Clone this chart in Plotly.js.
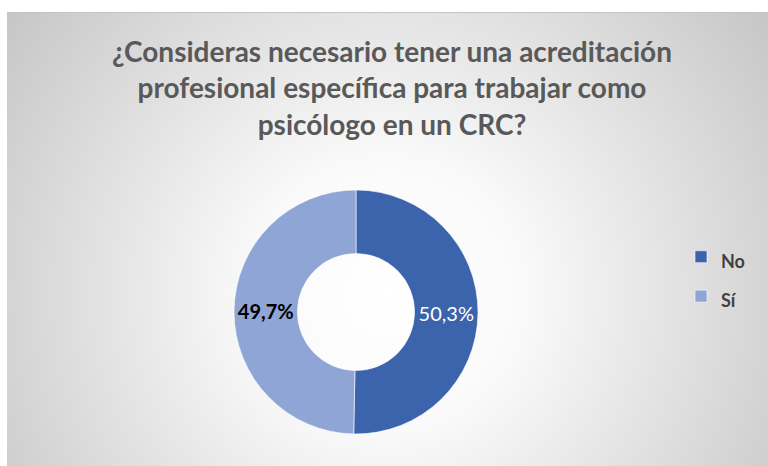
<!DOCTYPE html>
<html>
<head>
<meta charset="utf-8">
<script src="https://cdn.plot.ly/plotly-3.0.1.min.js"></script>
<style>
  html, body { margin: 0; padding: 0; background: #ffffff; }
  #wrap { position: relative; width: 768px; height: 466px; overflow: hidden; }
  #bg { position: absolute; left: 7px; top: 12px; width: 761px; height: 454px;
        border-top: 1px solid #c4c4c4;
        background: radial-gradient(circle farthest-corner at 50% 62%, #ffffff 0%, #fafafa 28%, #c6c6c6 100%); }
  #chart { position: absolute; left: 0; top: 0; width: 768px; height: 466px; }
</style>
</head>
<body>
<div id="wrap">
  <div id="bg"></div>
  <div id="chart"></div>
</div>
<script>
const categories = ['No', 'Sí'];
const values = [50.3, 49.7];
const valueLabels = ['50,3%', '<b>49,7%</b>'];
const sliceColors = ['#3b64ad', '#8fa5d6'];
const labelColors = ['#ffffff', '#000000'];
const titleText = '¿Consideras necesario tener una acreditación<br>profesional específica para trabajar como<br>psicólogo en un CRC?';

const W = 768, H = 466;
const cx = 356, cy = 312, r = 122;

const trace = {
  type: 'pie',
  labels: categories.map(c => '<span style="font-size:18px">' + c + '</span>'),
  values: values,
  text: valueLabels,
  textinfo: 'text',
  textposition: 'inside',
  insidetextorientation: 'horizontal',
  textfont: { family: 'Lato, Liberation Sans, sans-serif', size: 20, color: labelColors },
  hole: 0.48,
  sort: false,
  direction: 'clockwise',
  rotation: 0,
  marker: { colors: sliceColors, line: { color: '#ffffff', width: 0.6 } },
  domain: { x: [(cx - r) / W, (cx + r) / W], y: [(H - cy - r) / H, (H - cy + r) / H] },
  hoverinfo: 'label+percent'
};

const layout = {
  width: W, height: H,
  margin: { l: 0, r: 0, t: 0, b: 0 },
  paper_bgcolor: 'rgba(0,0,0,0)',
  plot_bgcolor: 'rgba(0,0,0,0)',
  title: {
    text: titleText,
    font: { family: 'Lato, Liberation Sans, sans-serif', size: 28, color: '#595959', weight: 'bold' },
    x: 392 / W, xanchor: 'center',
    y: 1 - 62 / H, yanchor: 'top', yref: 'container'
  },
  showlegend: true,
  legend: {
    x: 681 / W, xanchor: 'left',
    y: 1 - 232 / H, yanchor: 'top',
    font: { family: 'Lato, Liberation Sans, sans-serif', size: 28, color: '#404040', weight: 'bold' },
    bgcolor: 'rgba(0,0,0,0)',
    itemclick: false
  }
};

Plotly.newPlot('chart', [trace], layout, { displayModeBar: false, staticPlot: true });
</script>
</body>
</html>
